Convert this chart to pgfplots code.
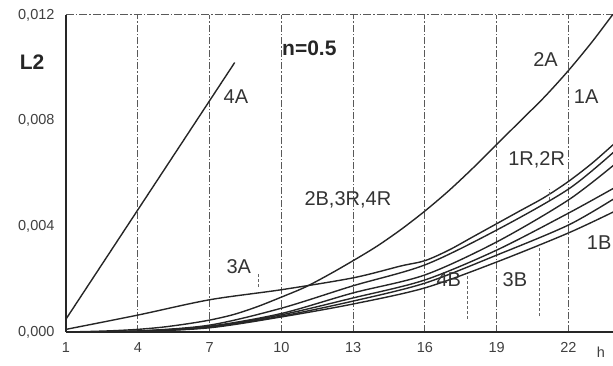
\documentclass[border=0pt]{standalone}
\usepackage{fontspec}
\setmainfont{Liberation Sans}
\usepackage{pgfplots}
\pgfplotsset{compat=1.18}
\tikzset{curve/.style={black!85, line width=1.4pt}}
\begin{document}
\begin{tikzpicture}[x=1pt,y=1pt]
\useasboundingbox (-66,-34) rectangle (547,332);
\begin{axis}[
 at={(0,0)}, anchor=south west,
 scale only axis, width=547pt, height=317pt,
 xmin=1, xmax=23.86, ymin=0, ymax=0.012,
 axis x line*=bottom, axis y line*=left,
 axis line style={black!85, line width=1.2pt, -},
 xtick={1,4,7,10,13,16,19,22},
 ytick={0,0.004,0.008,0.012},
 yticklabels={{0,000},{0,004},{0,008},{0,012}},
 scaled y ticks=false,
 major tick length=0pt,
 /pgf/number format/assume math mode=true,
 tick label style={font=\fontsize{14.5}{16}\selectfont, text=black!75},
 xticklabel style={yshift=-7pt},
 yticklabel style={xshift=-8pt},
 xmajorgrids,
 grid style={black!65, dash pattern=on 7pt off 2pt on 1.5pt off 2pt, line width=0.9pt},
 no markers,
 clip=true,
 extra description/.code={
   \node[font=\fontsize{21}{23}\selectfont\bfseries, text=black!85] at (axis description cs:-0.062,0.852) {L2};
   \node[font=\fontsize{14.5}{16}\selectfont, text=black!75] at (axis description cs:0.978,-0.063) {h};
 },
]
% top border
\addplot[black!65, line width=1pt, dash pattern=on 8pt off 2pt on 1.5pt off 2pt] coordinates {(1,0.012) (24,0.012)};
% 4A
\addplot[curve] coordinates {(1,0.00049) (8.05,0.0102)};
% 2A steep
\addplot[curve, smooth] coordinates {(1,0) (2,0.00002) (3,0.00005) (4,0.0001) (5,0.00018) (6,0.0003) (7,0.00045) (8,0.00066) (9,0.00096) (10,0.00132) (11,0.0017) (12,0.00218) (13,0.0027) (14,0.00325) (15,0.00388) (16,0.00458) (17,0.00535) (18,0.0062) (19,0.0071) (20,0.0080) (21,0.0089) (22,0.0099) (23,0.0110) (24,0.0122)};
% 3A
\addplot[curve, smooth, tension=0.5] coordinates {(1,0.0001) (4,0.00064) (7,0.00122) (10,0.0016) (13,0.00205) (15,0.0025) (16,0.0027) (17,0.0031) (18,0.0036) (19,0.0041) (20,0.0046) (21,0.0051) (22,0.0057) (23,0.0064) (24,0.0072)};
% bundle
\addplot[curve, smooth, tension=0.5] coordinates {(1,0) (4,0.00004) (7,0.00026) (10,0.0009) (13,0.00175) (16,0.00254) (19,0.00386) (22,0.00541) (24,0.0069)};
\addplot[curve, smooth, tension=0.5] coordinates {(1,0) (4,0.00003) (7,0.00022) (10,0.0007) (13,0.00148) (16,0.00216) (19,0.00341) (22,0.005) (24,0.0064)};
\addplot[curve, smooth, tension=0.5] coordinates {(1,0) (4,0.00003) (7,0.0002) (10,0.00065) (13,0.00129) (16,0.00197) (19,0.0031) (22,0.0045) (24,0.0055)};
\addplot[curve, smooth, tension=0.5] coordinates {(1,0) (4,0.00002) (7,0.00018) (10,0.0006) (13,0.00117) (16,0.00185) (19,0.00291) (22,0.00405) (24,0.0051)};
\addplot[curve, smooth, tension=0.5] coordinates {(1,0) (4,0.00002) (7,0.00016) (10,0.00057) (13,0.00106) (16,0.00167) (19,0.00265) (22,0.00375) (24,0.0046)};
% small dashed markers
\addplot[black!60, line width=1pt, dash pattern=on 3pt off 2pt] coordinates {(9.05,0.0017) (9.05,0.0022)};
\addplot[black!60, line width=1pt, dash pattern=on 3pt off 2pt] coordinates {(17.76,0.0005) (17.76,0.0022)};
\addplot[black!60, line width=1pt, dash pattern=on 3pt off 2pt] coordinates {(20.8,0.0006) (20.8,0.0033)};
\addplot[black!60, line width=1pt, dash pattern=on 3pt off 2pt] coordinates {(21.2,0.0050) (21.2,0.0054)};
% labels
\node[font=\fontsize{21}{23}\selectfont\bfseries, text=black!85] at (axis cs:11.17,0.01075) {n=0.5};
\node[font=\fontsize{20}{22}\selectfont, text=black!80] at (axis cs:8.1,0.0089) {4A};
\node[font=\fontsize{20}{22}\selectfont, text=black!80] at (axis cs:21.04,0.0103) {2A};
\node[font=\fontsize{20}{22}\selectfont, text=black!80] at (axis cs:22.74,0.0089) {1A};
\node[font=\fontsize{20}{22}\selectfont, text=black!80] at (axis cs:20.67,0.0065) {1R,2R};
\node[font=\fontsize{20}{22}\selectfont, text=black!80] at (axis cs:12.78,0.0050) {2B,3R,4R};
\node[font=\fontsize{20}{22}\selectfont, text=black!80] at (axis cs:8.22,0.00246) {3A};
\node[font=\fontsize{20}{22}\selectfont, text=black!80] at (axis cs:17.0,0.00197) {4B};
\node[font=\fontsize{20}{22}\selectfont, text=black!80] at (axis cs:19.76,0.00197) {3B};
\node[font=\fontsize{20}{22}\selectfont, text=black!80] at (axis cs:23.28,0.00337) {1B};
\end{axis}
\end{tikzpicture}
\end{document}
